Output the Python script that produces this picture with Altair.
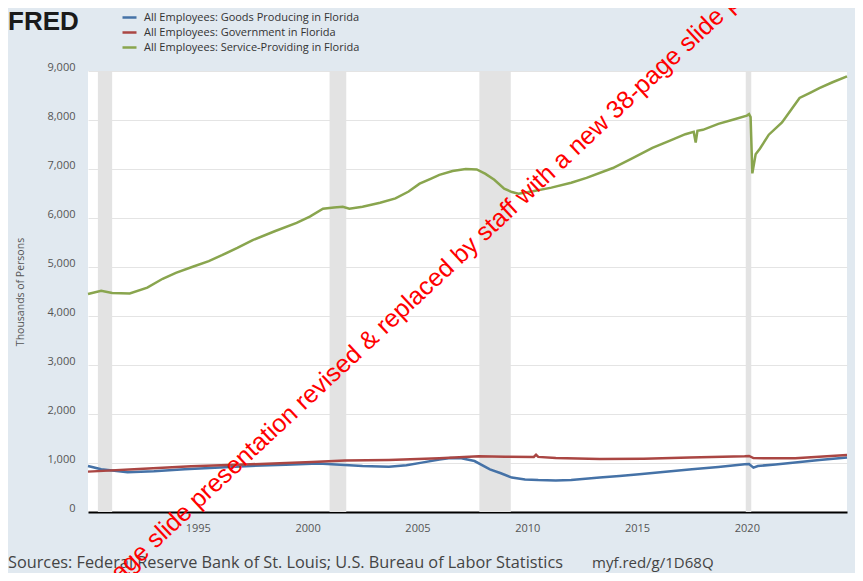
import altair as alt
import pandas as pd

# ---- data ----
series_names = [
    "All Employees: Goods Producing in Florida",
    "All Employees: Government in Florida",
    "All Employees: Service-Providing in Florida",
]
series_colors = ["#4572a7", "#aa4643", "#89a54e"]

goods_years = [1990.0, 1990.6, 1991.8, 1993.0, 1994.4, 1996.0, 1997.4, 1999.0, 2000.5,
               2001.5, 2002.5, 2003.7, 2004.5, 2005.2, 2006.0, 2006.5, 2007.0, 2007.6,
               2008.3, 2008.8, 2009.3, 2009.9, 2010.5, 2011.3, 2012.0, 2013.3, 2014.2,
               2015.1, 2016.3, 2017.5, 2018.7, 2019.9, 2020.1, 2020.3, 2020.5, 2021.3,
               2022.2, 2023.3, 2024.56]
goods_values = [939, 871, 810, 830, 871, 910, 939, 965, 988,
                965, 940, 926, 955, 1008, 1070, 1100, 1095, 1040,
                871, 790, 702, 665, 653, 645, 653, 702, 735,
                769, 820, 871, 920, 973, 980, 906, 939, 970,
                1008, 1060, 1110]

gov_years = [1990.0, 1992.1, 1994.7, 1997.4, 2000.2, 2001.7, 2003.7, 2006.0, 2007.8,
             2009.0, 2010.3, 2010.4, 2010.5, 2011.3, 2013.3, 2015.3, 2017.4, 2019.9,
             2020.1, 2020.3, 2022.2, 2024.56]
gov_values = [824, 871, 935, 973, 1020, 1050, 1061, 1096, 1140,
              1130, 1125, 1170, 1125, 1100, 1080, 1085, 1110, 1140,
              1145, 1100, 1095, 1165]

serv_years = [1990.0, 1990.6, 1991.1, 1991.9, 1992.7, 1993.4, 1994.0, 1994.8, 1995.5,
              1996.1, 1996.8, 1997.5, 1998.5, 1999.5, 2000.1, 2000.7, 2001.2, 2001.6,
              2001.9, 2002.5, 2003.3, 2004.0, 2004.6, 2005.1, 2005.6, 2006.0, 2006.6,
              2007.2, 2007.7, 2008.1, 2008.5, 2008.95, 2009.3, 2009.6, 2010.2, 2011.1,
              2012.0, 2012.7, 2013.9, 2014.8, 2015.7, 2016.5, 2017.2, 2017.58, 2017.67,
              2017.75, 2018.0, 2018.7, 2019.4, 2020.0, 2020.1, 2020.17, 2020.25, 2020.4,
              2020.6, 2021.0, 2021.6, 2022.0, 2022.4, 2022.9, 2023.3, 2023.9, 2024.56]
serv_values = [4450, 4515, 4470, 4460, 4580, 4760, 4880, 5010, 5120,
               5240, 5390, 5550, 5730, 5900, 6030, 6190, 6215, 6230,
               6190, 6230, 6310, 6400, 6540, 6700, 6800, 6880, 6960,
               7000, 6990, 6900, 6780, 6600, 6530, 6496, 6540, 6620,
               6720, 6820, 7020, 7220, 7430, 7580, 7710, 7760, 7540,
               7780, 7800, 7920, 8010, 8090, 8120, 8060, 6910, 7300,
               7420, 7700, 7950, 8200, 8450, 8560, 8650, 8770, 8890]

recession_starts = [1990.45, 2001.0, 2007.82, 2019.95]
recession_ends = [1991.1, 2001.76, 2009.25, 2020.2]

x_ticks = [1995, 2000, 2005, 2010, 2015, 2020]
y_ticks = [0, 1000, 2000, 3000, 4000, 5000, 6000, 7000, 8000, 9000]
x_domain = [1990.0, 2024.56]
y_domain = [0, 9000]

source_text = "Sources: Federal Reserve Bank of St. Louis; U.S. Bureau of Labor Statistics"
url_text = "myf.red/g/1D68Q"
logo_text = "FRED"
y_title = "Thousands of Persons"
stamp_text = "page slide presentation revised & replaced by staff with a new 38-page slide presentation"

# ---- tables ----
rows = []
for name, ys, vs in zip(series_names, [goods_years, gov_years, serv_years],
                        [goods_values, gov_values, serv_values]):
    for yr, v in zip(ys, vs):
        rows.append({"series": name, "year": yr, "value": v})
lines_df = pd.DataFrame(rows)
rec_df = pd.DataFrame({"start": recession_starts, "end": recession_ends})

W, H = 759, 441
FONT = "Open Sans"

x_scale = alt.Scale(domain=x_domain, nice=False, zero=False)
y_scale = alt.Scale(domain=y_domain, nice=False)

x_axis = alt.Axis(values=x_ticks, format="d", title=None, grid=False, ticks=False,
                  domain=True, domainColor="#000000", domainWidth=2,
                  labelPadding=10, labelFontSize=11, labelColor="#555555", labelFont=FONT)
y_axis = alt.Axis(values=y_ticks, format=",d", title=y_title, grid=True,
                  gridColor="#e4e4e4", gridWidth=1, ticks=False, domain=False,
                  labelPadding=13, labelFontSize=11, labelColor="#555555", labelFont=FONT,
                  labelOffset=-4, titleFont=FONT, titleFontSize=10.5,
                  titleFontWeight="normal", titleColor="#555555", titlePadding=21)

rec = alt.Chart(rec_df).mark_rect(color="#e3e3e3").encode(
    x=alt.X("start:Q", scale=x_scale, axis=x_axis),
    x2="end:Q",
    y=alt.datum(0, scale=y_scale, axis=y_axis),
    y2=alt.datum(9000),
)

lines = alt.Chart(lines_df).mark_line(strokeWidth=2.5).encode(
    x=alt.X("year:Q", scale=x_scale, axis=x_axis),
    y=alt.Y("value:Q", scale=y_scale, axis=y_axis),
    color=alt.Color("series:N", scale=alt.Scale(domain=series_names, range=series_colors),
                    legend=alt.Legend(orient="none", legendX=33, legendY=-62, title=None,
                                      symbolType="stroke", symbolSize=196,
                                      symbolStrokeWidth=2.5, labelFont=FONT,
                                      labelFontSize=11, labelColor="#333333",
                                      labelLimit=0, rowPadding=1, labelOffset=6,
                                      padding=0)),
    order="year:Q",
)

def label(text, x, y, **kw):
    return alt.Chart(pd.DataFrame({"t": [text]})).mark_text(**kw).encode(
        text="t:N", x=alt.value(x), y=alt.value(y))

logo = label(logo_text, -80, -41, font="Liberation Sans", fontSize=26, fontWeight="bold",
             color="#1a1a1a", align="left", baseline="alphabetic")
src = label(source_text, -80, 497, font=FONT, fontSize=16.3, color="#444444",
            align="left", baseline="alphabetic")
url = label(url_text, 504, 497, font=FONT, fontSize=15, color="#444444",
            align="left", baseline="alphabetic")
stamp = label(stamp_text, 22, 521, font="Liberation Sans", fontSize=25, color="#ff0000",
              align="left", baseline="alphabetic", angle=317)

chart = alt.layer(rec, lines, logo, src, url, stamp).properties(
    width=W, height=H,
    padding={"left": 80, "top": 63, "right": 8, "bottom": 61},
    autosize=alt.AutoSizeParams(type="none"),
).configure(background="#e1e9f0").configure_view(fill="white", stroke=None)

chart.save("out.html", embed_options={"renderer": "svg", "actions": False})
